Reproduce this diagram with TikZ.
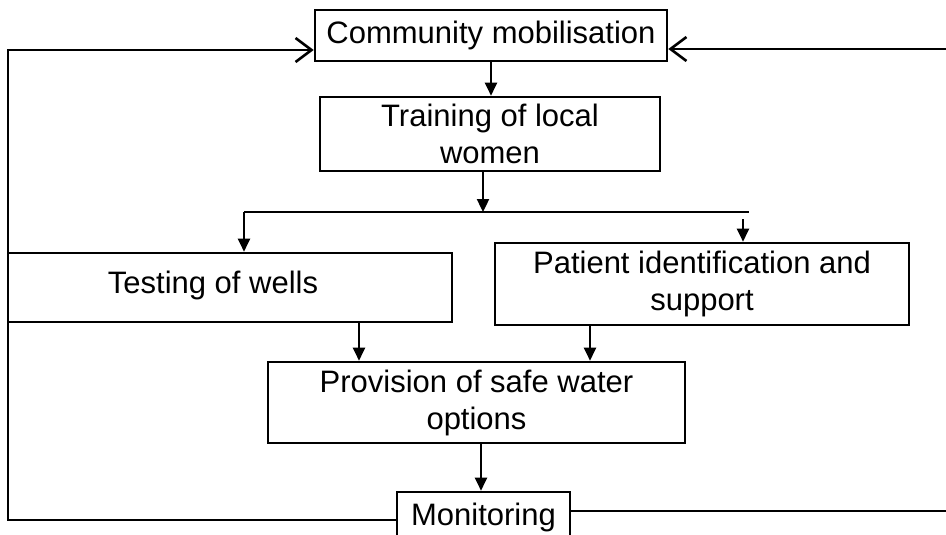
\documentclass[tikz,border=0pt]{standalone}
\usepackage{fontspec}
\setmainfont{Liberation Sans}
\usetikzlibrary{arrows.meta}
\tikzset{
  box/.style={draw, line width=2.6pt, inner sep=0pt, align=center,
    font=\fontsize{31}{37}\selectfont},
  conn/.style={line width=2.6pt},
  arr/.style={line width=2.4pt, -{Triangle[length=13pt,width=12pt]}},
  barb/.style={line width=2.6pt, -{Straight Barb[length=16pt,width=24pt,line width=2.6pt]}}
}
\begin{document}
\begin{tikzpicture}[x=1pt,y=-1pt]
\useasboundingbox (0,0) rectangle (946,535);
\clip (0,0) rectangle (946,535);
\fill[white] (0,0) rectangle (946,535);
% boxes
\node[box, minimum width=352pt, minimum height=51pt] (comm) at (491,35.5) {Community mobilisation};
\node[box, minimum width=340pt, minimum height=74pt] (train) at (490,134) {Training of local\\women};
\node[box, minimum width=444pt, minimum height=69pt] (test) at (230,287.5) {\hspace*{-34pt}\raisebox{10pt}{Testing of wells}};
\node[box, minimum width=414pt, minimum height=82pt] (pat) at (702,284) {Patient identification and\\support};
\node[box, minimum width=417pt, minimum height=81pt] (prov) at (476.5,402.5) {Provision of safe water\\options};
\node[box, minimum width=173pt, minimum height=50pt] (mon) at (483.5,517) {Monitoring};
% coordinates
\coordinate (j) at (483,212);
\coordinate (bl) at (244,212);
\coordinate (br) at (749,212);
\coordinate (rt) at (743,219);
\coordinate (lb) at (8,520);
\coordinate (lt) at (8,50);
\coordinate (rb) at (960,511);
\coordinate (rtop) at (960,49);
% connectors
\draw[arr] (comm.south) -- (comm.south |- train.north);
\draw[arr] (train.south -| j) -- (j);
\draw[conn] (bl) -- (br);
\draw[arr] (bl) -- (bl |- test.north);
\draw[arr] (rt) -- (rt |- pat.north);
\draw[arr] (test.south -| 359,0) -- (prov.north -| 359,0);
\draw[arr] (pat.south -| 590,0) -- (prov.north -| 590,0);
\draw[arr] (prov.south -| 481,0) -- (mon.north -| 481,0);
\draw[barb] (mon.west |- lb) -- (lb) -- (lt) -- (comm.west |- lt);
\draw[barb] (mon.east |- rb) -- (rb) -- (rtop) -- (comm.east |- rtop);
\end{tikzpicture}
\end{document}
